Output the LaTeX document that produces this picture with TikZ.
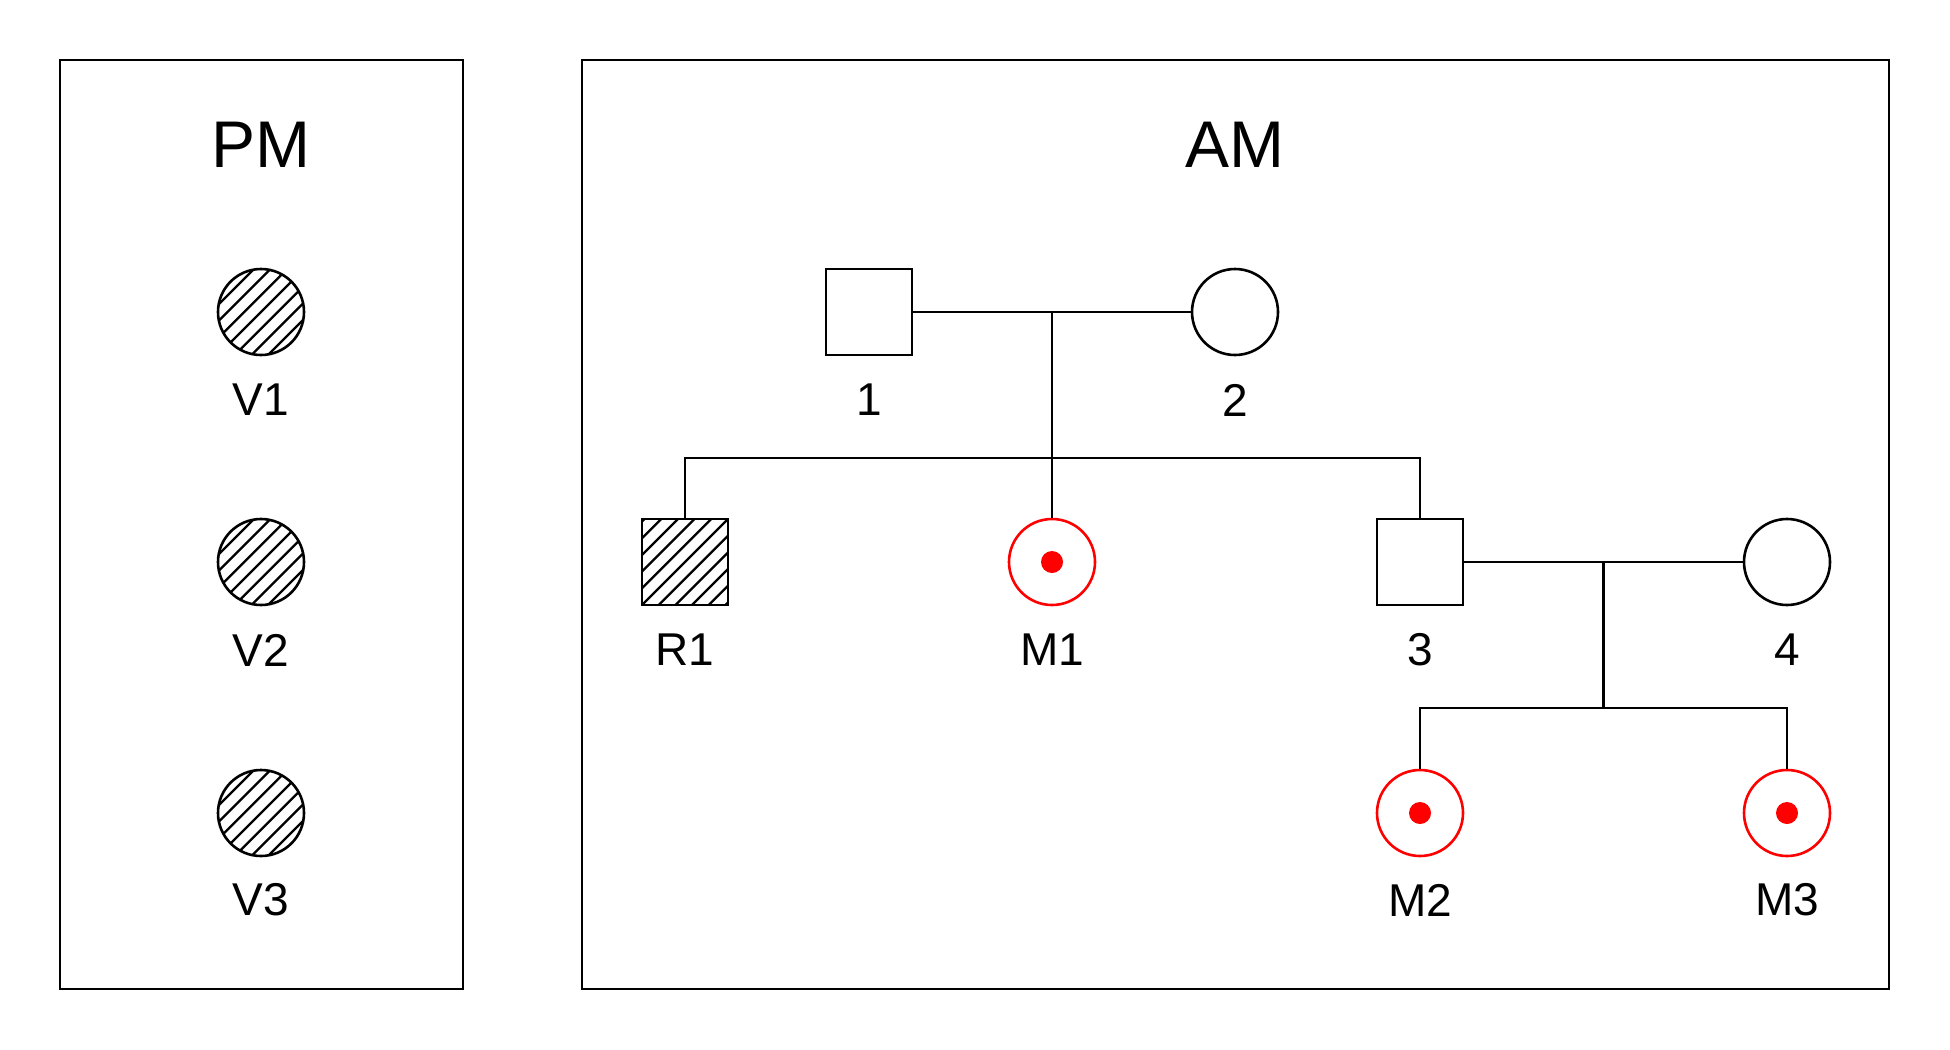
\documentclass[tikz,border=0pt]{standalone}
\usepackage{fontspec}
\setmainfont{Liberation Sans}
\usetikzlibrary{calc}

\begin{document}
\begin{tikzpicture}[x=0.5pt, y=-0.5pt, line width=1.3pt,
  male/.style={draw, rectangle, minimum size=43pt, inner sep=0pt},
  female/.style={draw, circle, minimum size=43pt, inner sep=0pt},
  hatched/.style={path picture={\foreach \k in {-5,...,5}
      \draw[line width=1.15pt] ([shift={(\k*8.35pt-30pt,-30pt)}]path picture bounding box.center) -- ++(60pt,60pt);}},
  carrier/.style={female, red, path picture={\fill[red] (path picture bounding box.center) circle (5.5pt);}},
  heading/.style={font=\fontsize{33}{36}\selectfont},
  tag/.style={font=\fontsize{23}{26}\selectfont}]

\useasboundingbox (0,0) rectangle (1950,1050);

%% PM
\draw (60,60) rectangle (463,989);
\node[heading] (pm) at (261,145) {PM};

\node[female, hatched] (V1) at (261,312) {};
\node[female, hatched] (V2) at (261,562) {};
\node[female, hatched] (V3) at (261,813) {};

\node[tag] (lV1) at (261,400) {V1};
\node[tag] (lV2) at (261,650) {V2};
\node[tag] (lV3) at (261,900) {V3};

%% AM
\draw (582,60) rectangle (1889,989);
\node[heading] (am) at (1235,145) {AM};

\node[male] (n1) at (869,312) {};
\node[female] (n2) at (1235,312) {};
\node[male, hatched] (R1) at (685,562) {};
\node[carrier] (M1) at (1052,562) {};
\node[male] (n3) at (1420,562) {};
\node[female] (n4) at (1787,562) {};
\node[carrier] (M2) at (1420,813) {};
\node[carrier] (M3) at (1787,813) {};

\node[tag] (l1) at (869,400) {1};
\node[tag] (l2) at (1235,400) {2};
\node[tag] (lR1) at (685,650) {R1};
\node[tag] (lM1) at (1052,650) {M1};
\node[tag] (l3) at (1420,650) {3};
\node[tag] (l4) at (1787,650) {4};
\node[tag] (lM2) at (1420,900) {M2};
\node[tag] (lM3) at (1787,900) {M3};

%% first couple and children
\coordinate (m12) at ($(n1)!0.5!(n2)$);
\coordinate (s12) at (m12 |- 0,458);
\draw (n1) -- (n2);
\draw (m12) -- (s12);
\draw (s12) -| (R1.north);
\draw (s12) -- (M1.north);
\draw (s12) -| (n3.north);

%% second couple and children
\coordinate (m34) at ($(n3)!0.5!(n4)$);
\coordinate (s34) at (m34 |- 0,708);
\draw (n3) -- (n4);
\draw (m34) -- (s34);
\draw (s34) -| (M2.north);
\draw (s34) -| (M3.north);
\end{tikzpicture}
\end{document}
